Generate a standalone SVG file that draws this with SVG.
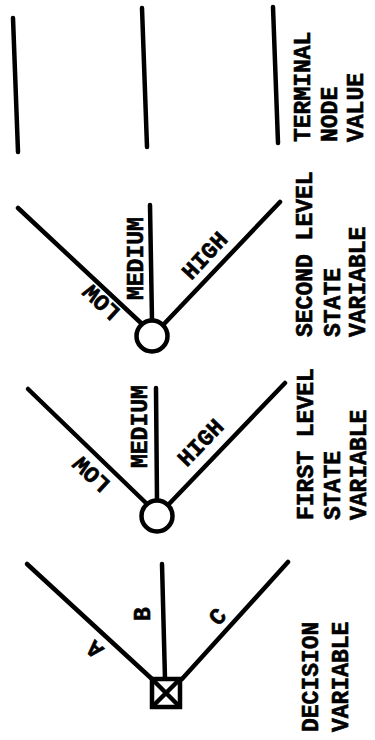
<svg xmlns="http://www.w3.org/2000/svg" width="375" height="740" viewBox="0 0 375 740">
<style>
.ln{stroke:#000;stroke-width:4.5;stroke-linecap:round;fill:none}
.nd{stroke:#000;stroke-width:4.5;fill:#fff}
text{font-family:"Liberation Mono","Courier New",monospace;font-weight:bold;font-size:23px;fill:#000;stroke:#000;stroke-width:0.6}
</style>
<rect width="375" height="740" fill="#fff"/>
<g id="connectors">
<line class="ln" x1="27" y1="564" x2="152" y2="679"/>
<line class="ln" x1="162" y1="564" x2="165" y2="679"/>
<line class="ln" x1="182" y1="679" x2="288" y2="562"/>
<line class="ln" x1="28" y1="389" x2="146" y2="503"/>
<line class="ln" x1="156" y1="388" x2="157" y2="500"/>
<line class="ln" x1="169" y1="504" x2="285" y2="383"/>
<line class="ln" x1="18" y1="208" x2="141" y2="323"/>
<line class="ln" x1="150" y1="205" x2="152" y2="320"/>
<line class="ln" x1="164" y1="324" x2="280" y2="202"/>
<line class="ln" x1="13" y1="18" x2="18" y2="152"/>
<line class="ln" x1="142" y1="8" x2="147" y2="147"/>
<line class="ln" x1="273" y1="7" x2="278" y2="143"/>
</g>
<g id="edge-labels">
<text transform="translate(95,649) rotate(-137)" text-anchor="middle" dy="0.3em">A</text>
<text transform="translate(150,614) rotate(-90)" text-anchor="middle">B</text>
<text transform="translate(218,617) rotate(-47)" text-anchor="middle" dy="0.3em">C</text>
<text transform="translate(92,474) rotate(-137)" text-anchor="middle" dy="0.3em">LOW</text>
<text transform="translate(147,468) rotate(-90)">MEDIUM</text>
<text transform="translate(201,443) rotate(-46)" text-anchor="middle" dy="0.3em">HIGH</text>
<text transform="translate(102,302) rotate(-137)" text-anchor="middle" dy="0.3em">LOW</text>
<text transform="translate(143,300) rotate(-90)">MEDIUM</text>
<text transform="translate(205,256) rotate(-47)" text-anchor="middle" dy="0.3em">HIGH</text>
</g>
<g id="decision-node">
<rect class="nd" x="152" y="679" width="28" height="28" stroke-width="5"/>
<path class="ln" d="M155 682L177 704M177 682L155 704" stroke-width="3.5"/>
</g>
<g id="first-chance-node">
<circle class="nd" cx="157" cy="516" r="15.5"/>
</g>
<g id="second-chance-node">
<circle class="nd" cx="152" cy="336" r="15.5"/>
</g>
<g id="column-labels">
<text transform="translate(318,732) rotate(-90)">DECISION</text>
<text transform="translate(348,732) rotate(-90)">VARIABLE</text>
<text transform="translate(313,520) rotate(-90)">FIRST LEVEL</text>
<text transform="translate(340,520) rotate(-90)">STATE</text>
<text transform="translate(366,520) rotate(-90)">VARIABLE</text>
<text transform="translate(312,337) rotate(-90)">SECOND LEVEL</text>
<text transform="translate(340,337) rotate(-90)">STATE</text>
<text transform="translate(365,337) rotate(-90)">VARIABLE</text>
<text transform="translate(310,142) rotate(-90)">TERMINAL</text>
<text transform="translate(337,142) rotate(-90)">NODE</text>
<text transform="translate(363,142) rotate(-90)">VALUE</text>
</g>
</svg>
